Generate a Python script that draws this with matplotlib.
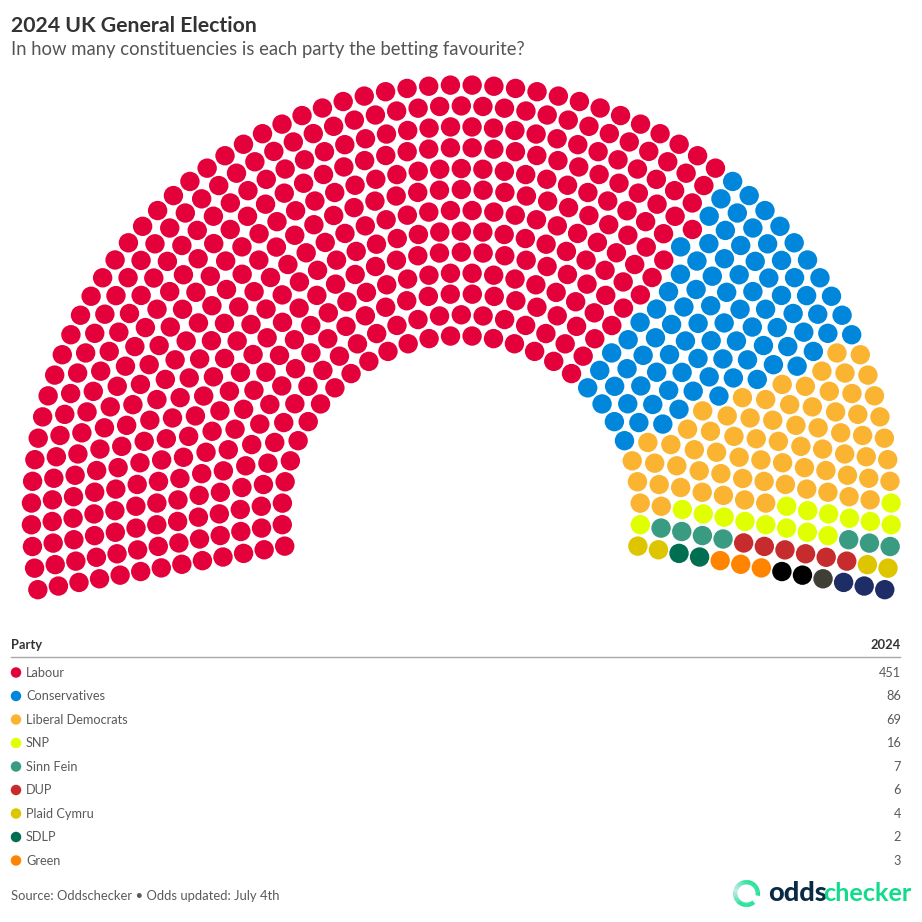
import numpy as np
import matplotlib
matplotlib.use("Agg")
import matplotlib.pyplot as plt
from matplotlib.patches import Wedge

parties = ["Labour", "Conservatives", "Liberal Democrats", "SNP", "Sinn Fein", "DUP",
           "Plaid Cymru", "SDLP", "Green"]
seats = [451, 86, 69, 16, 7, 6, 4, 2, 3]
colors = ["#E4003B", "#0087DC", "#FBB431", "#E0FF00", "#3A9B83", "#C62C2E",
          "#DDC500", "#006E51", "#FF8500"]
# Seats in the hemicycle that the table does not list
other_seats = [2, 1, 3]
other_colors = ["#000000", "#3F3F35", "#1F2D66"]
# Seats in each arc, innermost first, as counted from the picture
row_counts = [30, 33, 36, 40, 43, 47, 50, 53, 57, 60, 64, 67, 70]

TITLE = "2024 UK General Election"
SUBTITLE = "In how many constituencies is each party the betting favourite?"
SOURCE = "Source: Oddschecker \u2022 Odds updated: July 4th"

plt.rcParams["font.family"] = ["Lato", "DejaVu Sans"]
fig = plt.figure(figsize=(9.22, 9.22), dpi=100)
ax = fig.add_axes([0, 0, 1, 1])
ax.set_xlim(0, 922)
ax.set_ylim(922, 0)
ax.axis("off")

# Hemicycle layout
cx, cy = 461.3, 515.0
r_in, r_out = 179.3, 430.0
a_end = 10.0
radii = np.linspace(r_in, r_out, len(row_counts))

pts = []
for ri, (r, n) in enumerate(zip(radii, row_counts)):
    for k in range(n):
        t = k / (n - 1)
        a = 180 + a_end - t * (180 + 2 * a_end)
        pts.append((round(-a, 6), ri, r))
pts.sort()
ang = np.radians([-p[0] for p in pts])
rad = np.array([p[2] for p in pts])
xs = cx + rad * np.cos(ang)
ys = cy - rad * np.sin(ang)
seat_colors = np.repeat(colors + other_colors, seats + other_seats)
ax.scatter(xs, ys, s=(19.4 * 0.72) ** 2, c=list(seat_colors), linewidths=0, zorder=3)

# Heading
ax.text(11, 26, TITLE, fontsize=15.3, fontweight="bold", color="#333333", va="center")
ax.text(11, 49, SUBTITLE, fontsize=13.35, color="#555555", va="center")

# Table
ax.text(11, 645, "Party", fontsize=9.3, fontweight="bold", color="#333333", va="center")
ax.text(901, 645, "2024", fontsize=9.3, fontweight="bold", color="#333333", va="center", ha="right")
ax.plot([11, 900], [657.2, 657.2], color="#A8A8A8", lw=1.0)
row_y = np.linspace(672.5, 860.5, len(parties))
ax.scatter([16] * len(parties), row_y, s=(10.5 * 0.72) ** 2, c=colors, linewidths=0)
for y, p, v in zip(row_y, parties, seats):
    ax.text(26, y, p, fontsize=9.2, color="#5A5A5A", va="center")
    ax.text(901, y, str(v), fontsize=9.2, color="#5A5A5A", va="center", ha="right")
ax.text(11, 896, SOURCE, fontsize=9.4, color="#5A5A5A", va="center")

# Logo
lx, ly = 746.5, 893.5
c0 = np.array(matplotlib.colors.to_rgb("#C4E6EA"))
c1 = np.array(matplotlib.colors.to_rgb("#12E08F"))
for a in np.arange(50, 370, 4):
    f = min(1.0, abs(a - 195) / 75)
    ax.add_patch(Wedge((lx, ly), 13.5, a, a + 4.5, width=4.4, lw=0,
                       color=tuple(c0 + (c1 - c0) * f)))
ax.text(768, 893, "odds", fontsize=19.5, fontweight=900, color="#0B2A45", va="center")
ax.text(823, 893, "checker", fontsize=18.2, fontweight="bold", color="#12DB8C", va="center")

fig.savefig("out.png", dpi=100, facecolor="white")
